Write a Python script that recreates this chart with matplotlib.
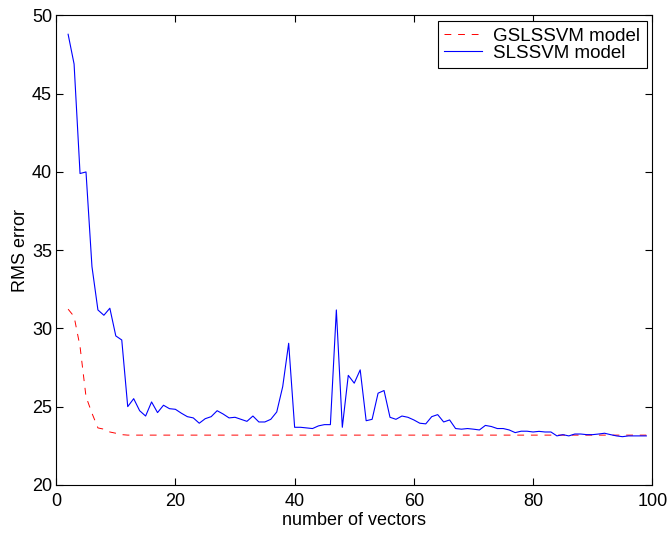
import numpy as np
from matplotlib import pyplot as plt

# number of vectors
x_vals = list(range(2, 100))

# SLSSVM model RMS error for x = 2..99
slssvm = [48.8, 46.9, 39.9, 40.0, 33.95, 31.18, 30.84, 31.29, 29.52, 29.26,
          25.0, 25.51, 24.74, 24.40, 25.3, 24.62, 25.09, 24.87, 24.83, 24.58,
          24.36, 24.28, 23.94, 24.23, 24.36, 24.74, 24.53, 24.28, 24.32, 24.19,
          24.06, 24.4, 24.02, 24.02, 24.19, 24.66, 26.28, 29.05, 23.68, 23.68,
          23.64, 23.6, 23.77, 23.85, 23.85, 31.18, 23.68, 27.0, 26.5, 27.35,
          24.1, 24.19, 25.86, 26.03, 24.32, 24.19, 24.4, 24.32, 24.15, 23.94,
          23.9, 24.36, 24.49, 24.02, 24.15, 23.6, 23.56, 23.6, 23.56, 23.51,
          23.8, 23.73, 23.6, 23.6, 23.51, 23.34, 23.43, 23.43, 23.38, 23.42,
          23.38, 23.38, 23.13, 23.21, 23.13, 23.25, 23.25, 23.21, 23.21, 23.25,
          23.3, 23.21, 23.13, 23.08, 23.13, 23.13, 23.13, 23.13]

# GSLSSVM model RMS error
gslssvm = [31.23, 30.76, 28.84, 25.64, 24.58, 23.64, 23.56, 23.38, 23.3, 23.21] + [23.18] * 88

plt.rcParams['font.family'] = ['Liberation Sans', 'DejaVu Sans']
plt.rcParams['font.size'] = 13

fig = plt.figure(figsize=(6.69, 5.34), dpi=100)
ax = fig.add_axes([0.084, 0.092, 0.891, 0.879])

ax.plot(x_vals, gslssvm, color='#ff0000', linestyle=(0, (7, 7)), linewidth=0.7, label='GSLSSVM model')
ax.plot(x_vals, slssvm, color='#0000ff', linewidth=0.8, label='SLSSVM model')

ax.set_xlim(0, 100)
ax.set_ylim(20, 50)
ax.set_xticks(range(0, 101, 20))
ax.set_yticks(range(20, 51, 5))
ax.tick_params(direction='in', top=True, right=True, length=5, width=0.8)
ax.tick_params(axis='x', pad=6)
ax.tick_params(axis='y', pad=3)
for s in ax.spines.values():
    s.set_linewidth(0.8)

ax.set_xlabel('number of vectors', labelpad=1)
ax.set_ylabel('RMS error', labelpad=2)

leg = ax.legend(loc='upper right', fancybox=False, framealpha=1, edgecolor='black',
                fontsize=13.5, borderaxespad=0.3, handlelength=2.0, handletextpad=0.6,
                borderpad=0.35, labelspacing=0.0)
leg.get_frame().set_linewidth(0.8)

fig.savefig('out.png', dpi=100)
